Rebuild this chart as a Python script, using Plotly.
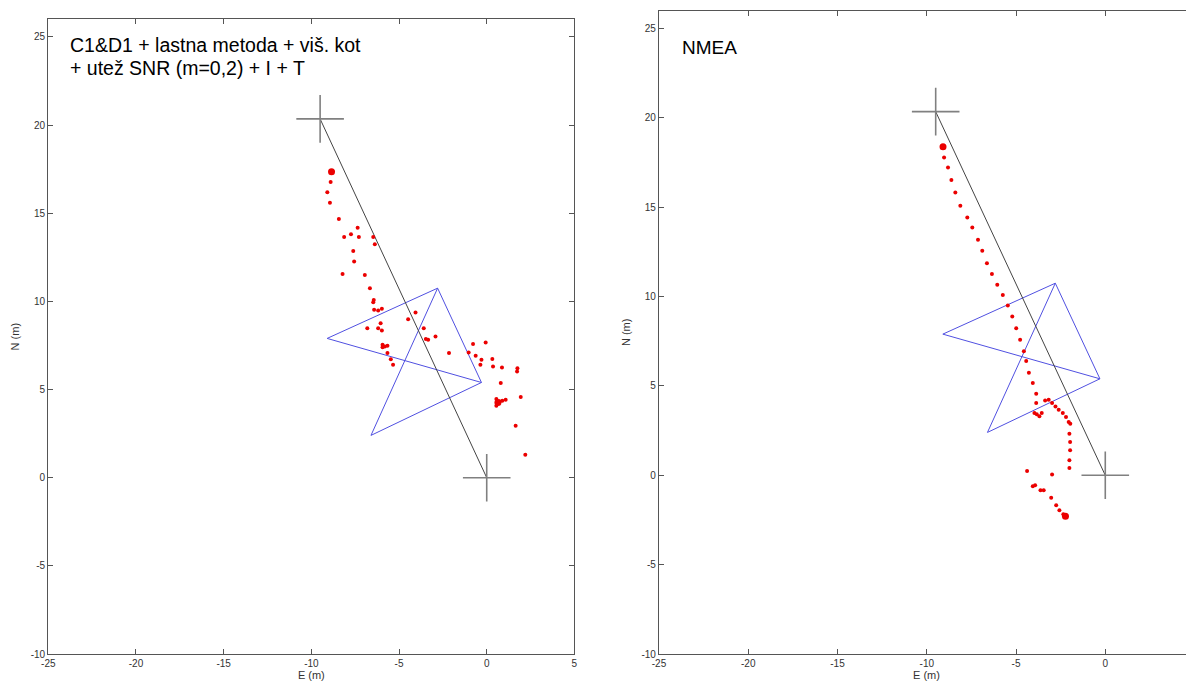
import plotly.graph_objects as go

# The page body has an 8px margin, so the figure is drawn 8px right/down;
# all pixel positions below are screen positions minus that offset.
OFF = 8
W, H = 1194 - OFF, 684 - OFF

# ---------------- data ----------------
ticks_e = [-25, -20, -15, -10, -5, 0, 5]
ticks_n = [-10, -5, 0, 5, 10, 15, 20, 25]

# reference points (crosses) and line between them
ref_e = [-9.5, 0.0]
ref_n = [20.35, 0.0]

# blue bow-tie polygon (path V1-V2-V3-V4-V1-V3)
poly_e = [-2.8, -9.1, -0.3, -6.6, -2.8, -0.3]
poly_n = [10.75, 7.9, 5.4, 2.4, 10.75, 5.4]

# left panel: C1&D1 + lastna metoda ...
left_e = [-8.90, -9.09, -8.94, -8.43, -7.36, -7.74, -8.13, -7.29, -6.47, -6.38,
          -7.61, -7.56, -8.22, -6.95, -6.66, -6.44, -6.47, -6.42, -6.19, -5.98,
          -4.06, -4.48, -6.05, -6.81, -6.19, -5.98, -3.59, -3.47, -3.34, -2.92,
          -5.94, -5.81, -5.66, -5.94, -5.66, -5.47, -5.34, -2.15, -0.78, -0.06,
          -1.03, -0.63, -0.30, 0.32, -0.36, 0.36, 0.87, 1.75, 1.73, 0.80,
          0.55, 0.74, 0.89, 1.08, 0.55, 1.94, 1.65, 2.20]
left_n = [16.77, 16.19, 15.60, 14.67, 14.18, 13.81, 13.65, 13.65, 13.65, 13.24,
          12.86, 12.26, 11.56, 11.50, 10.75, 10.08, 9.95, 9.52, 9.48, 9.58,
          9.37, 8.99, 8.76, 8.48, 8.48, 8.35, 8.48, 7.86, 7.82, 8.01,
          7.54, 7.44, 7.48, 7.40, 7.07, 6.72, 6.40, 7.07, 7.59, 7.67,
          7.10, 6.91, 6.69, 6.73, 6.40, 6.31, 6.25, 6.21, 6.02, 5.37,
          4.46, 4.32, 4.36, 4.42, 4.08, 4.57, 2.95, 1.30]
left_big_e = [-8.85, 0.64]
left_big_n = [17.36, 4.27]

# right panel: NMEA
right_e = [-9.03, -8.81, -8.62, -8.40, -8.12, -7.73, -7.45, -7.13, -6.89, -6.63,
           -6.35, -6.05, -5.74, -5.46, -5.21, -4.99, -4.77, -4.56, -4.43, -4.28,
           -4.06, -3.87, -3.87, -3.97, -3.84, -3.69, -3.56, -3.37, -3.17, -2.98,
           -2.79, -2.61, -2.38, -2.20, -2.05, -1.96, -2.01, -1.97, -1.97, -2.01,
           -2.01, -4.38, -2.98, -3.93, -4.06, -3.63, -3.45, -3.03, -2.75, -2.57,
           -2.35]
right_n = [17.78, 17.22, 16.52, 15.83, 15.08, 14.43, 13.87, 13.18, 12.57, 11.86,
           11.27, 10.67, 10.09, 9.50, 8.88, 8.23, 7.58, 6.94, 6.39, 5.74,
           5.16, 4.56, 4.04, 3.48, 3.41, 3.30, 3.48, 4.19, 4.23, 4.04,
           3.85, 3.67, 3.48, 3.26, 2.98, 2.89, 2.33, 1.86, 1.40, 0.84,
           0.41, 0.24, 0.04, -0.56, -0.61, -0.84, -0.84, -1.25, -1.68, -1.96,
           -2.18]
right_big_e = [-9.09, -2.23]
right_big_n = [18.38, -2.29]

# ---------------- styling ----------------
RED = "rgb(235,0,0)"
BLUE = "rgb(80,80,225)"
LINE = "#444444"
CROSS = "#808080"
FRAME = "#555555"
FONT = "Arial, Liberation Sans, sans-serif"


def px_x(p):
    return (p - OFF) / W


def px_y(p):
    return 1 - (p - OFF) / H


fig = go.Figure()


def add_panel(xa, ya, pts_e, pts_n, big_e, big_n):
    fig.add_trace(go.Scatter(x=poly_e, y=poly_n, mode="lines", xaxis=xa, yaxis=ya,
                             line=dict(color=BLUE, width=1), showlegend=False, hoverinfo="skip"))
    fig.add_trace(go.Scatter(x=ref_e, y=ref_n, mode="lines", xaxis=xa, yaxis=ya,
                             line=dict(color=LINE, width=1), showlegend=False, hoverinfo="skip"))
    fig.add_trace(go.Scatter(x=ref_e, y=ref_n, mode="markers", xaxis=xa, yaxis=ya,
                             marker=dict(symbol="cross-thin", size=34,
                                         line=dict(color=CROSS, width=1.6)),
                             showlegend=False, hoverinfo="skip"))
    fig.add_trace(go.Scatter(x=pts_e, y=pts_n, mode="markers", xaxis=xa, yaxis=ya,
                             marker=dict(color=RED, size=4, line=dict(width=0)),
                             showlegend=False))
    fig.add_trace(go.Scatter(x=big_e, y=big_n, mode="markers", xaxis=xa, yaxis=ya,
                             marker=dict(color=RED, size=7, line=dict(width=0)),
                             showlegend=False))


add_panel("x", "y", left_e, left_n, left_big_e, left_big_n)
add_panel("x2", "y2", right_e, right_n, right_big_e, right_big_n)
# dummy trace so the right-side tick axis of the right panel is drawn
fig.add_trace(go.Scatter(x=[None], y=[None], xaxis="x2", yaxis="y3", showlegend=False,
                         hoverinfo="skip"))

tick_font = dict(family=FONT, size=10, color="#333333")
title_font = dict(family=FONT, size=11, color="#333333")


def xax(domain, rng, mirror=True):
    return dict(domain=domain, range=rng, tickvals=ticks_e, ticktext=[str(v) for v in ticks_e],
                ticks="inside", ticklen=5, tickwidth=1, tickcolor=FRAME,
                showline=True, linecolor=FRAME, linewidth=1.3, mirror="ticks" if mirror else False,
                showgrid=False, zeroline=False, tickfont=tick_font, automargin=False,
                title=dict(text="E (m)", font=title_font, standoff=2), fixedrange=True)


def yax(domain, anchor, mirror=True):
    return dict(domain=domain, range=[-10, 26], anchor=anchor, tickvals=ticks_n,
                ticktext=[str(v) for v in ticks_n],
                ticks="inside", ticklen=5, tickwidth=1, tickcolor=FRAME,
                showline=True, linecolor=FRAME, linewidth=1.3, mirror="ticks" if mirror else False,
                showgrid=False, zeroline=False, tickfont=tick_font, automargin=False,
                title=dict(text="N (m)", font=title_font, standoff=8), fixedrange=True)


fig.update_layout(
    width=W, height=H,
    margin=dict(l=0, r=0, t=0, b=0),
    paper_bgcolor="white", plot_bgcolor="white",
    showlegend=False,
    xaxis=dict(xax([px_x(48.3), px_x(574.4)], [-25, 5]), anchor="y"),
    yaxis=yax([px_y(654), px_y(19.3)], "x"),
    xaxis2=dict(xax([px_x(659), 1.0], [-25, 4.97]), anchor="y2"),
    yaxis2=yax([px_y(654), px_y(10.7)], "x2", mirror=False),
    yaxis3=dict(overlaying="y2", anchor="x2", side="right", range=[-10, 26], tickvals=ticks_n,
                ticks="inside", ticklen=5, tickwidth=1, tickcolor=FRAME, showline=False,
                showticklabels=False, showgrid=False, zeroline=False, fixedrange=True),
    annotations=[
        dict(text="C1&D1 + lastna metoda + viš. kot", xref="paper", yref="paper",
             x=px_x(68), y=px_y(45), xanchor="left", yanchor="middle", showarrow=False,
             font=dict(family=FONT, size=19.5, color="black")),
        dict(text="+ utež SNR (m=0,2) + I + T", xref="paper", yref="paper",
             x=px_x(68), y=px_y(68), xanchor="left", yanchor="middle", showarrow=False,
             font=dict(family=FONT, size=19.5, color="black")),
        dict(text="NMEA", xref="paper", yref="paper",
             x=px_x(680), y=px_y(47), xanchor="left", yanchor="middle", showarrow=False,
             font=dict(family=FONT, size=19, color="black")),
    ],
)

fig.write_html("out.html")
